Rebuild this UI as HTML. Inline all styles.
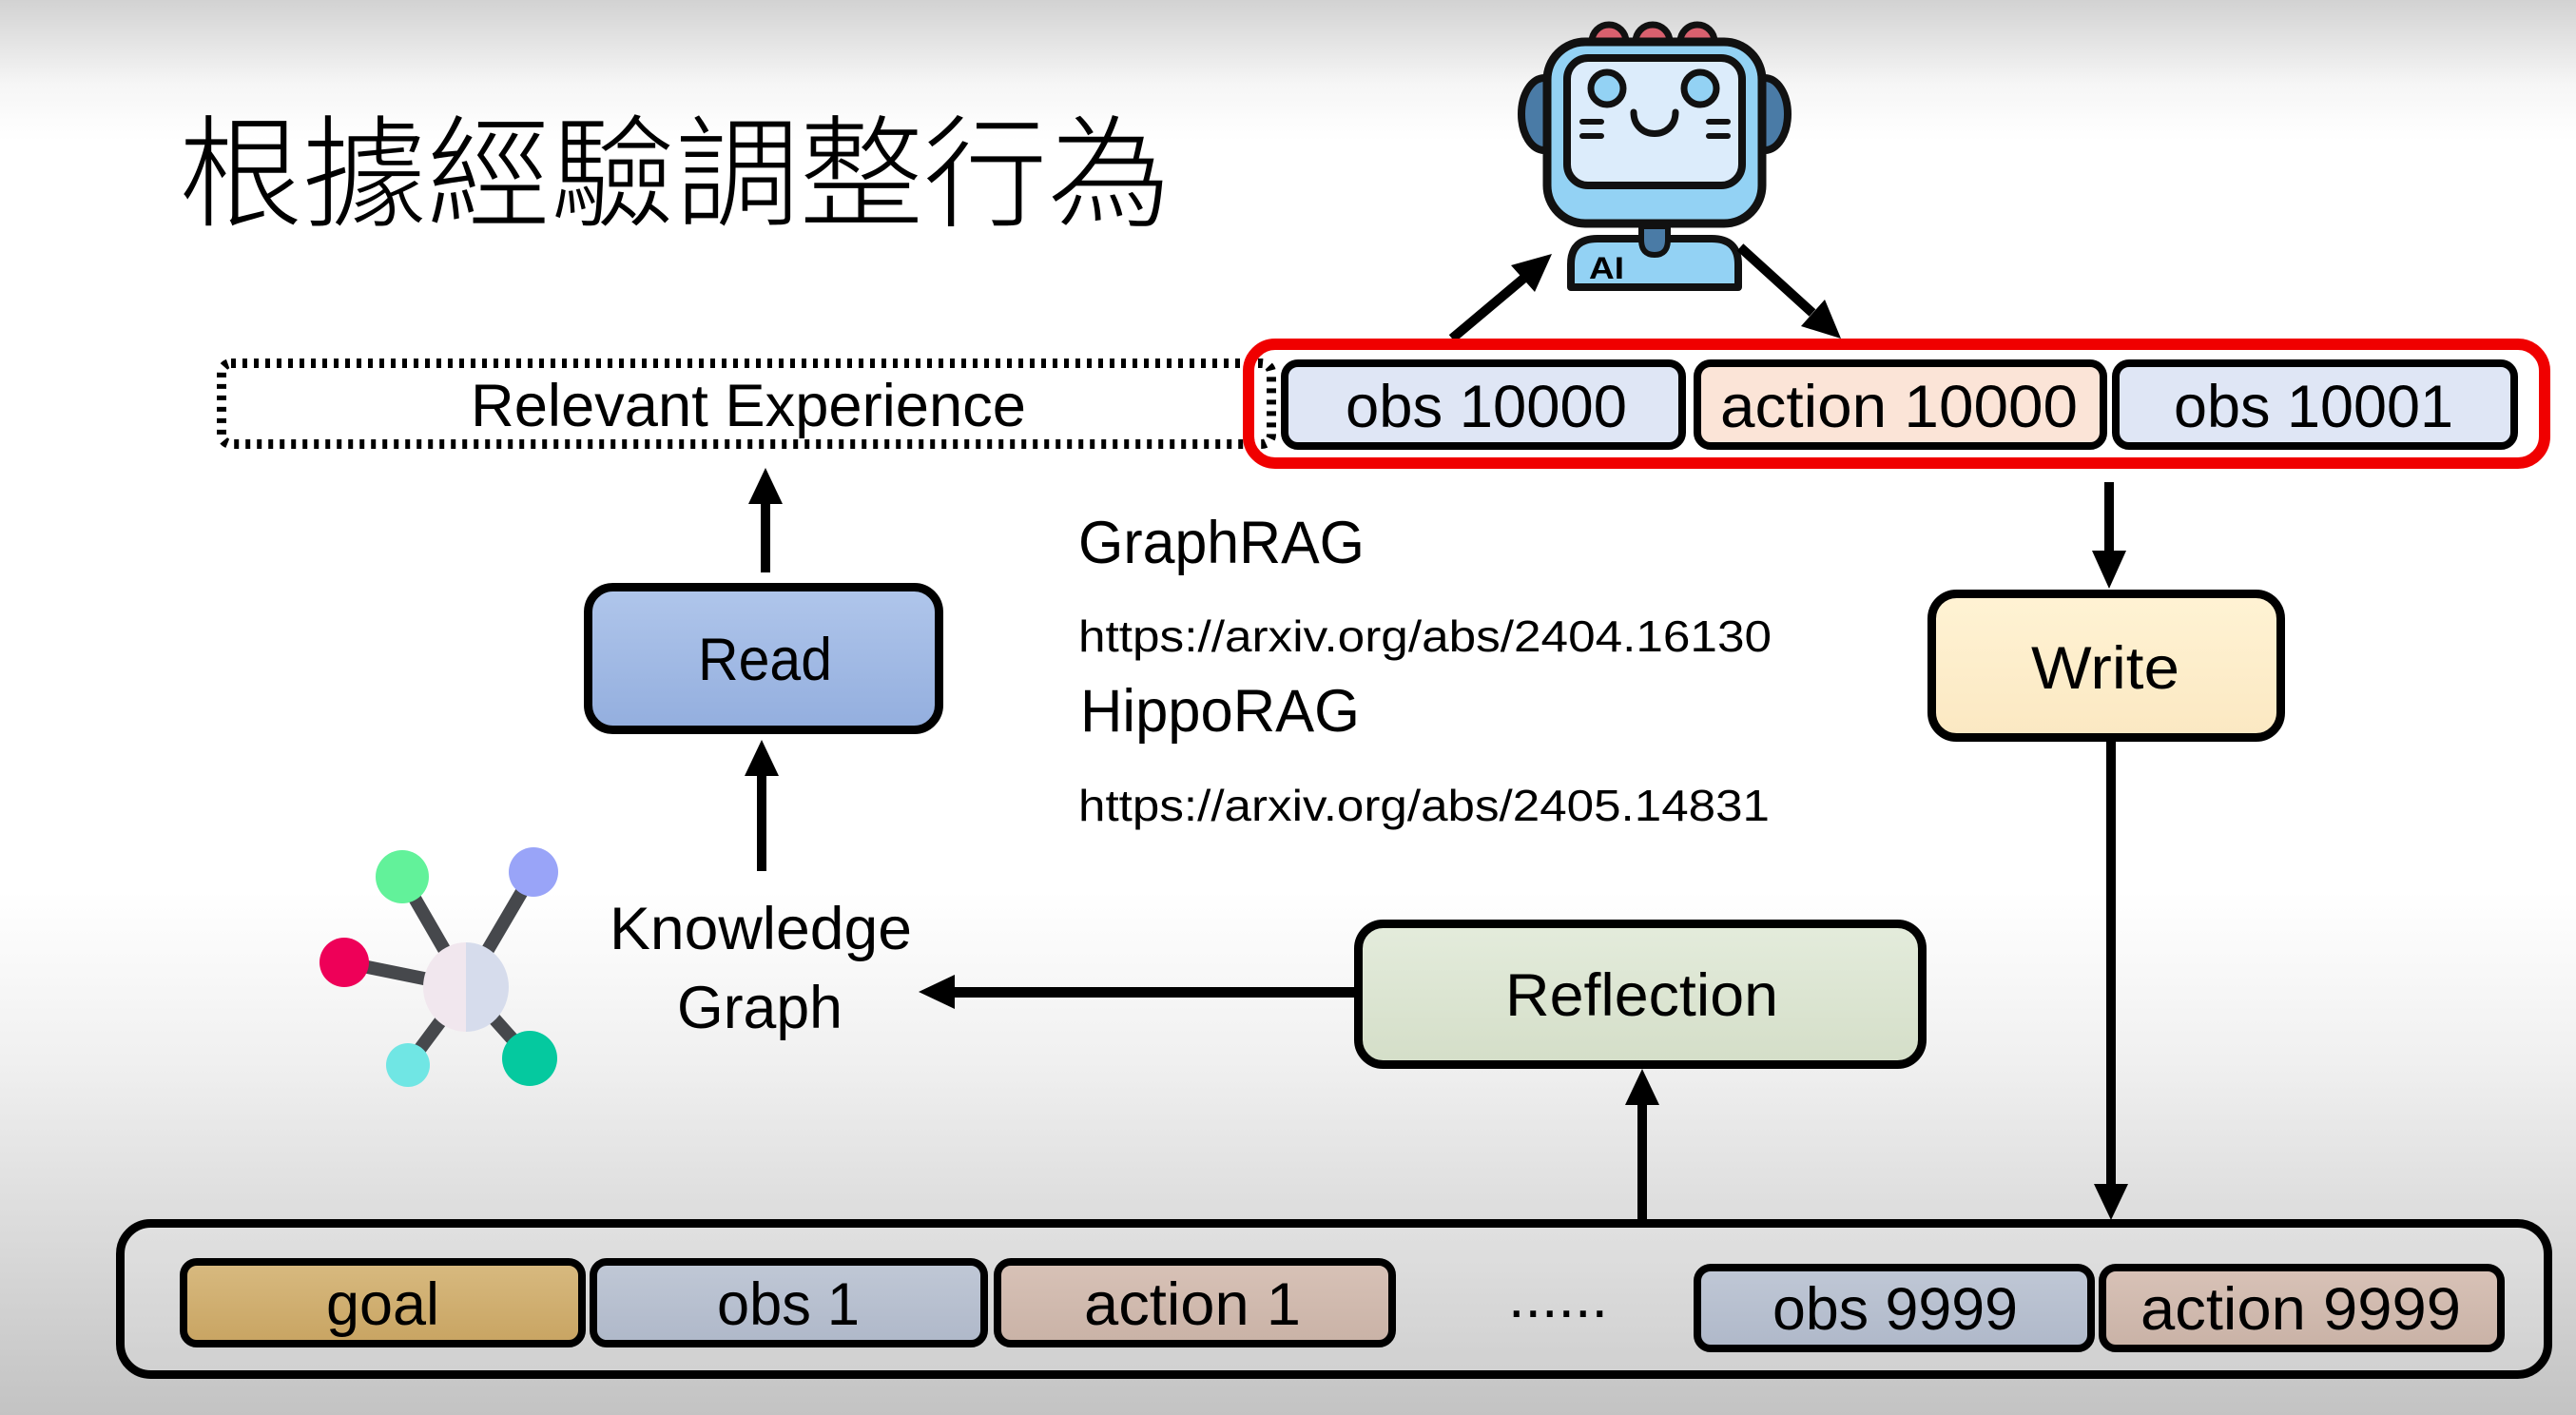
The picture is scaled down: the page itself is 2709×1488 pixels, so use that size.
<!DOCTYPE html>
<html><head><meta charset="utf-8">
<style>
html,body{margin:0;padding:0;width:2709px;height:1488px;overflow:hidden;background:#fff;}
svg{display:block;}
text{font-family:"Liberation Sans",sans-serif;fill:#000;}
</style></head>
<body>
<svg width="2709" height="1488" viewBox="0 0 2709 1488" xmlns="http://www.w3.org/2000/svg">
<defs>
<linearGradient id="bg" x1="0" y1="0" x2="0" y2="1">
<stop offset="0" stop-color="#d2d2d2"/>
<stop offset="0.06" stop-color="#f6f6f6"/>
<stop offset="0.1" stop-color="#ffffff"/>
<stop offset="0.63" stop-color="#ffffff"/>
<stop offset="0.75" stop-color="#f0f0f0"/>
<stop offset="0.88" stop-color="#d9d9d9"/>
<stop offset="1" stop-color="#c3c3c3"/>
</linearGradient>
<linearGradient id="gRead" x1="0" y1="0" x2="0" y2="1"><stop offset="0" stop-color="#b0c6eb"/><stop offset="1" stop-color="#93aede"/></linearGradient>
<linearGradient id="gWrite" x1="0" y1="0" x2="0" y2="1"><stop offset="0" stop-color="#fff3d4"/><stop offset="1" stop-color="#fbe8c2"/></linearGradient>
<linearGradient id="gRefl" x1="0" y1="0" x2="0" y2="1"><stop offset="0" stop-color="#e4ecdc"/><stop offset="1" stop-color="#d4dec8"/></linearGradient>
<linearGradient id="gGoal" x1="0" y1="0" x2="0" y2="1"><stop offset="0" stop-color="#d8ba80"/><stop offset="1" stop-color="#c8a462"/></linearGradient>
<linearGradient id="gObs" x1="0" y1="0" x2="0" y2="1"><stop offset="0" stop-color="#c0c8d6"/><stop offset="1" stop-color="#afb8c9"/></linearGradient>
<linearGradient id="gAct" x1="0" y1="0" x2="0" y2="1"><stop offset="0" stop-color="#d8c2b7"/><stop offset="1" stop-color="#c9b2a6"/></linearGradient>
</defs>

<rect x="0" y="0" width="2709" height="1488" fill="url(#bg)"/>

<!-- Title -->
<text x="188" y="228" font-size="128" font-weight="300" textLength="1044" lengthAdjust="spacingAndGlyphs" style='font-family:"Liberation Sans","Noto Sans CJK TC","Noto Sans CJK SC",sans-serif;font-weight:300'>根據經驗調整行為</text>

<!-- Robot -->
<g stroke="#111" stroke-linejoin="round" stroke-linecap="round">
  <circle cx="1692" cy="44" r="18" fill="#d9606e" stroke-width="7"/>
  <circle cx="1738" cy="44" r="18" fill="#d9606e" stroke-width="7"/>
  <circle cx="1785" cy="44" r="18" fill="#d9606e" stroke-width="7"/>
  <ellipse cx="1624" cy="120" rx="24" ry="38" fill="#4a7ba6" stroke-width="8"/>
  <ellipse cx="1856" cy="120" rx="24" ry="38" fill="#4a7ba6" stroke-width="8"/>
  <rect x="1627" y="44" width="226" height="191" rx="40" fill="#93d2f4" stroke-width="9"/>
  <rect x="1648" y="61" width="184" height="134" rx="22" fill="#dcecfb" stroke-width="8"/>
  <circle cx="1690" cy="93" r="17" fill="#93d2f4" stroke-width="7"/>
  <circle cx="1788" cy="93" r="17" fill="#93d2f4" stroke-width="7"/>
  <path d="M1718 118 C1718 148 1762 148 1762 118" fill="none" stroke-width="7"/>
  <path d="M1664 128 H1684 M1664 143 H1684 M1797 128 H1817 M1797 143 H1817" stroke-width="6" fill="none"/>
  <path d="M1652 302 V278 Q1652 251 1680 251 H1800 Q1828 251 1828 278 V302 Z" fill="#93d2f4" stroke-width="8"/>
  <path d="M1726 238 V252 Q1726 268 1740 268 Q1754 268 1754 252 V238 Z" fill="#4a7ba6" stroke-width="6"/>
</g>
<text x="1671" y="293" font-size="32" font-weight="bold" textLength="37" lengthAdjust="spacingAndGlyphs">AI</text>

<!-- Robot arrows -->
<line x1="1527" y1="356" x2="1602" y2="293" stroke="#000" stroke-width="10"/>
<polygon points="1632,267 1614,307 1589,279" fill="#000"/>
<line x1="1830" y1="260" x2="1906" y2="329" stroke="#000" stroke-width="10"/>
<polygon points="1936,356 1894,343 1919,315" fill="#000"/>

<!-- Relevant Experience dotted box -->
<rect x="233" y="382" width="1104" height="85" rx="10" fill="none" stroke="#000" stroke-width="10" stroke-dasharray="5 7"/>
<text x="495" y="448" font-size="63" textLength="584" lengthAdjust="spacingAndGlyphs">Relevant Experience</text>

<!-- Red box contents -->
<rect x="1351" y="382" width="418" height="87" rx="14" fill="#dfe6f5" stroke="#000" stroke-width="8"/>
<rect x="1785" y="382" width="427" height="87" rx="14" fill="#fbe4d7" stroke="#000" stroke-width="8"/>
<rect x="2225" y="382" width="419" height="87" rx="14" fill="#dfe6f5" stroke="#000" stroke-width="8"/>
<text x="1415" y="449" font-size="63" textLength="296" lengthAdjust="spacingAndGlyphs">obs 10000</text>
<text x="1809" y="449" font-size="63" textLength="376" lengthAdjust="spacingAndGlyphs">action 10000</text>
<text x="2286" y="449" font-size="63" textLength="294" lengthAdjust="spacingAndGlyphs">obs 10001</text>
<rect x="1313" y="362" width="1363" height="125" rx="28" fill="none" stroke="#f00000" stroke-width="12"/>

<!-- Read -->
<rect x="618.5" y="617.5" width="369" height="150" rx="26" fill="url(#gRead)" stroke="#000" stroke-width="9"/>
<text x="734" y="715" font-size="63" textLength="141" lengthAdjust="spacingAndGlyphs">Read</text>

<!-- Write -->
<rect x="2031.5" y="624.5" width="367" height="151" rx="26" fill="url(#gWrite)" stroke="#000" stroke-width="9"/>
<text x="2136" y="724" font-size="63" textLength="156" lengthAdjust="spacingAndGlyphs">Write</text>

<!-- Reflection -->
<rect x="1428.5" y="971.5" width="593" height="148" rx="26" fill="url(#gRefl)" stroke="#000" stroke-width="9"/>
<text x="1583" y="1068" font-size="63" textLength="287" lengthAdjust="spacingAndGlyphs">Reflection</text>

<!-- References -->
<text x="1134" y="592" font-size="63" textLength="301" lengthAdjust="spacingAndGlyphs">GraphRAG</text>
<text x="1134" y="685" font-size="46" textLength="729" lengthAdjust="spacingAndGlyphs">https://arxiv.org/abs/2404.16130</text>
<text x="1136" y="769" font-size="63" textLength="294" lengthAdjust="spacingAndGlyphs">HippoRAG</text>
<text x="1134" y="863" font-size="46" textLength="727" lengthAdjust="spacingAndGlyphs">https://arxiv.org/abs/2405.14831</text>

<!-- Knowledge graph icon -->
<g stroke="#46484c" stroke-width="14">
  <line x1="490" y1="1038" x2="423" y2="922"/>
  <line x1="490" y1="1038" x2="561" y2="917"/>
  <line x1="490" y1="1038" x2="362" y2="1012"/>
  <line x1="490" y1="1038" x2="429" y2="1120"/>
  <line x1="490" y1="1038" x2="557" y2="1113"/>
</g>
<circle cx="423" cy="922" r="28" fill="#62f29a"/>
<circle cx="561" cy="917" r="26" fill="#99a4f8"/>
<circle cx="362" cy="1012" r="26" fill="#ee0058"/>
<circle cx="429" cy="1120" r="23" fill="#70e6e4"/>
<circle cx="557" cy="1113" r="29" fill="#05c99f"/>
<path d="M490 991 A45 47 0 0 0 490 1085 Z" fill="#f1e7ee"/>
<path d="M490 991 A45 47 0 0 1 490 1085 Z" fill="#d6dcec"/>
<text x="641" y="998" font-size="63" textLength="318" lengthAdjust="spacingAndGlyphs">Knowledge</text>
<text x="712" y="1081" font-size="63" textLength="174" lengthAdjust="spacingAndGlyphs">Graph</text>

<!-- Arrows -->
<g fill="#000" stroke="none">
  <!-- Read -> RE -->
  <rect x="800" y="526" width="10" height="76"/>
  <polygon points="805,492 787,530 823,530"/>
  <!-- KG -> Read -->
  <rect x="796" y="812" width="10" height="104"/>
  <polygon points="801,778 783,816 819,816"/>
  <!-- Red -> Write -->
  <rect x="2213" y="507" width="10" height="76"/>
  <polygon points="2218,619 2200,579 2236,579"/>
  <!-- Write -> bar -->
  <rect x="2215" y="780" width="10" height="470"/>
  <polygon points="2220,1283 2202,1245 2238,1245"/>
  <!-- bar -> Reflection -->
  <rect x="1722" y="1158" width="10" height="126"/>
  <polygon points="1727,1124 1709,1162 1745,1162"/>
  <!-- Reflection -> KG -->
  <rect x="1000" y="1038" width="426" height="11"/>
  <polygon points="966,1043 1004,1025 1004,1061"/>
</g>

<!-- Bottom bar -->
<rect x="126.5" y="1286.5" width="2553" height="159" rx="32" fill="#ffffff" fill-opacity="0.15" stroke="#000" stroke-width="9"/>
<rect x="193" y="1327" width="419" height="86" rx="14" fill="url(#gGoal)" stroke="#000" stroke-width="8"/>
<rect x="624" y="1327" width="411" height="86" rx="14" fill="url(#gObs)" stroke="#000" stroke-width="8"/>
<rect x="1049" y="1327" width="415" height="86" rx="14" fill="url(#gAct)" stroke="#000" stroke-width="8"/>
<rect x="1785" y="1333" width="414" height="85" rx="14" fill="url(#gObs)" stroke="#000" stroke-width="8"/>
<rect x="2211" y="1333" width="419" height="85" rx="14" fill="url(#gAct)" stroke="#000" stroke-width="8"/>
<text x="343" y="1393" font-size="63" textLength="119" lengthAdjust="spacingAndGlyphs">goal</text>
<text x="754" y="1393" font-size="63" textLength="150" lengthAdjust="spacingAndGlyphs">obs 1</text>
<text x="1140" y="1393" font-size="63" textLength="228" lengthAdjust="spacingAndGlyphs">action 1</text>
<text x="1586" y="1385" font-size="63" textLength="105" lengthAdjust="spacingAndGlyphs">......</text>
<text x="1864" y="1398" font-size="63" textLength="258" lengthAdjust="spacingAndGlyphs">obs 9999</text>
<text x="2251" y="1398" font-size="63" textLength="337" lengthAdjust="spacingAndGlyphs">action 9999</text>
</svg>
</body></html>
